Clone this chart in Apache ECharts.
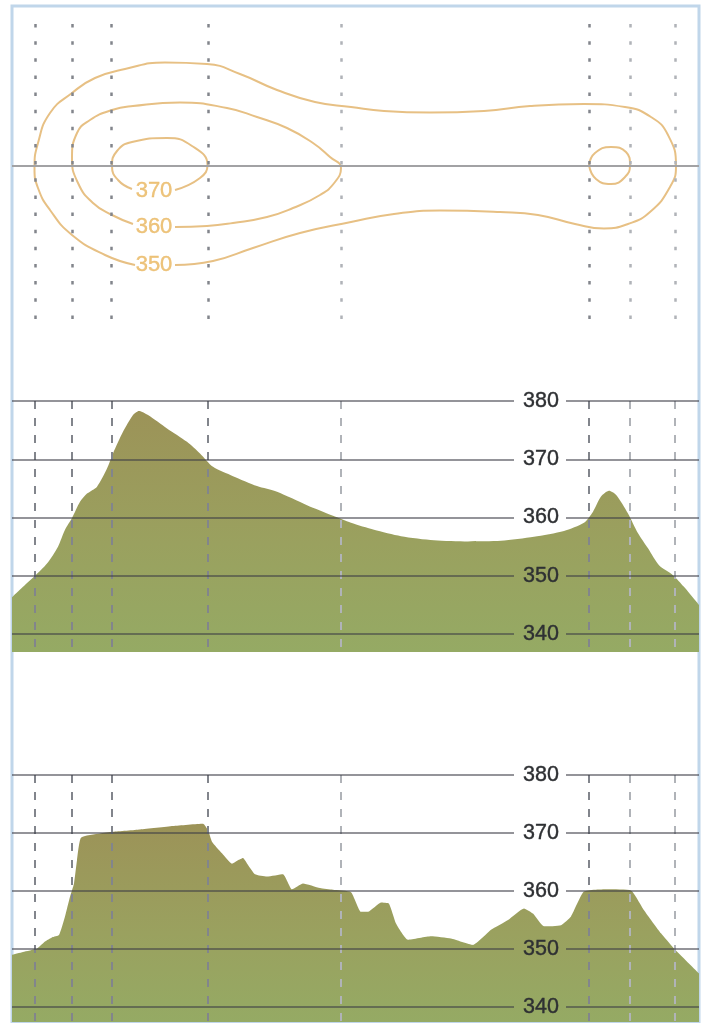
<!DOCTYPE html>
<html>
<head>
<meta charset="utf-8">
<style>
  html, body { margin: 0; padding: 0; background: #fff; }
  #main { width: 702px; height: 1023px; }
</style>
</head>
<body>
<div id="main"></div>
<script src="https://cdn.jsdelivr.net/npm/echarts@6/dist/echarts.min.js"></script>
<script>
// section positions along the profile (same x scale in all three panels)
const sectionX = [35, 72, 111.5, 208, 341, 589, 630, 675]
const faintX = [341, 630, 675]
const planLineY = [166]
const elevTicks = [340, 350, 360, 370, 380]

// contours, plan view
const contour350 = [[135, 265], [105, 255], [72, 235], [50, 210], [38, 188], [34.5, 168], [38, 143], [50, 113], [72, 93], [95, 78], [125, 69], [165, 62.5], [207, 64], [240, 74], [277, 90], [315, 102], [351, 107], [384, 111], [430, 112.5], [484, 111], [530, 106], [584, 104], [625, 107], [651, 117], [668, 135], [676, 166], [670, 187], [650, 212], [628, 224], [604, 228.5], [575, 224], [538, 215], [500, 212], [440, 210.5], [394, 214], [351, 222], [300, 233], [253, 248], [213, 261], [175, 265]]
const contour360 = [[133, 224], [112, 215], [93, 203], [78, 183], [72, 158], [77, 133], [90, 120], [112, 110], [133, 106], [180, 102.5], [227, 108], [257, 117], [287, 128], [313, 143], [330, 157], [341, 168], [335, 182], [320, 195], [293, 208], [267, 217], [233, 223], [207, 226], [175, 227]]
const contour370 = [[132, 189], [118, 180], [112, 166], [117, 151], [132, 142], [167, 138], [192, 146], [207.5, 165], [200, 178], [175, 190]]
const contourRing = [[589, 165], [595, 153], [611, 147], [626, 152], [630, 165], [625, 177], [611, 184], [596, 179], [589, 165]]
const contourLabelText = ['370', '360', '350']
const contourLabelX = [154, 154, 154]
const contourLabelY = [190.5, 227, 265]

// elevation profiles
const profileAX = [12, 23, 35, 47, 58, 65, 72, 80, 87, 97, 107, 113, 123, 133, 139, 148, 167, 187, 200, 213, 233, 257, 277, 307, 333, 351, 374, 401, 434, 468, 501, 534, 564, 584, 593, 601, 609, 616, 628, 638, 648, 659, 673, 684, 699]
const profileAY = [346.3, 348.1, 350, 352.1, 355, 357.9, 359.9, 362.7, 364.1, 365.3, 368.4, 371, 374.7, 377.6, 378.3, 377.6, 375.3, 373, 371, 368.7, 367.1, 365.4, 364.4, 362.1, 360.3, 359.1, 357.9, 356.8, 356.1, 355.9, 356, 356.7, 357.7, 359.1, 361, 363.6, 364.6, 363.9, 360.7, 357.3, 354.7, 351.8, 350.1, 348.1, 345]
const profileBX = [12, 23, 37, 45, 52, 59, 65, 70, 74, 77, 81, 100, 113, 140, 173, 203, 208, 212, 222, 232, 238, 243, 248, 255, 267, 283, 292, 303, 320, 333, 351, 361, 368, 381, 389, 396, 408, 431, 451, 473, 491, 508, 524, 533, 544, 561, 571, 584, 608, 631, 644, 661, 674, 699]
const profileBY = [349, 349.5, 350.1, 351.3, 352, 352.4, 355.6, 359, 361.3, 365.3, 369.2, 369.9, 370.2, 370.6, 371.2, 371.6, 370.5, 368.5, 366.5, 364.7, 365.3, 365.7, 364.5, 362.9, 362.5, 362.9, 360.3, 361.3, 360.5, 360.2, 359.8, 356.4, 356.4, 358, 357.8, 354.4, 351.6, 352.2, 351.8, 350.7, 353.3, 355, 357, 356.1, 353.9, 354.1, 355.6, 359.9, 360.3, 360.1, 356.7, 352.7, 350.1, 345.8]

const xMin = 12
const xMax = 699
const gapLeft = 514
const gapRight = 566
const fontFamily = '"Liberation Sans", Arial, sans-serif'

const areaFill = {
  type: 'linear', x: 0, y: 0, x2: 0, y2: 1,
  colorStops: [
    { offset: 0, color: '#9c9358' },
    { offset: 0.55, color: '#9aa15f' },
    { offset: 1, color: '#95aa64' },
  ],
}

function zip(xs, ys) {
  return xs.map((x, i) => [x, ys[i]])
}

function sectionLines(from, to, dash, width) {
  return {
    silent: true,
    symbol: 'none',
    label: { show: false },
    animation: false,
    data: sectionX.map(x => [
      {
        coord: [x, from],
        lineStyle: {
          color: faintX.includes(x) ? '#b0b3b8' : '#82858c',
          width,
          type: dash,
        },
      },
      { coord: [x, to] },
    ]),
  }
}

function levelLines() {
  const data = []
  elevTicks.forEach((v) => {
    data.push([{ coord: [xMin, v] }, { coord: [gapLeft, v] }])
    data.push([{ coord: [gapRight, v] }, { coord: [xMax, v] }])
  })
  return {
    silent: true,
    symbol: 'none',
    label: { show: false },
    animation: false,
    lineStyle: { color: 'rgba(60, 60, 70, 0.55)', width: 2, type: 'solid' },
    data,
  }
}

function helper(index, markLine, z) {
  return { type: 'line', xAxisIndex: index, yAxisIndex: index, data: [], z, markLine }
}

function contourSeries(data, smooth) {
  return {
    type: 'line',
    xAxisIndex: 0,
    yAxisIndex: 0,
    data,
    smooth,
    showSymbol: false,
    z: 3,
    lineStyle: { color: '#e7c084', width: 2 },
  }
}

function profileSeries(index, xs, ys, smooth) {
  return {
    type: 'line',
    xAxisIndex: index,
    yAxisIndex: index,
    data: zip(xs, ys),
    showSymbol: false,
    smooth,
    z: 2,
    lineStyle: { width: 0 },
    areaStyle: { color: areaFill, origin: 'start', opacity: 1 },
  }
}

function xAxisFor(gridIndex) {
  return { type: 'value', gridIndex, min: xMin, max: xMax, show: false }
}

function elevAxis(gridIndex, min) {
  return {
    type: 'value',
    gridIndex,
    min,
    max: 380,
    position: 'right',
    offset: -176,
    z: 6,
    axisLine: { show: false },
    axisTick: { show: false },
    splitLine: { show: false },
    axisLabel: {
      customValues: elevTicks,
      margin: 0,
      padding: [4, 0, 0, 0],
      color: '#2e3033',
      fontSize: 21.5,
      fontFamily,
      textBorderColor: '#2e3033',
      textBorderWidth: 0.4,
    },
  }
}

const chart = echarts.init(document.getElementById('main'), null, { renderer: 'canvas' })
chart.setOption({
  animation: false,
  backgroundColor: '#fff',
  grid: [
    { left: xMin, top: 6, width: xMax - xMin, height: 320 },
    { left: xMin, top: 401, width: xMax - xMin, height: 251 },
    { left: xMin, top: 775, width: xMax - xMin, height: 247 },
    // outer frame, runs off the bottom of the page
    { left: xMin, top: 6, width: xMax - xMin, height: 1040, show: true, borderColor: '#c0d6ea', borderWidth: 3, backgroundColor: 'transparent' },
  ],
  xAxis: [xAxisFor(0), xAxisFor(1), xAxisFor(2)],
  yAxis: [
    { type: 'value', gridIndex: 0, min: 6, max: 326, inverse: true, show: false },
    elevAxis(1, 336.91),
    elevAxis(2, 337.41),
  ],
  series: [
    helper(0, sectionLines(24, 320, [3.5, 13.64], 2.5), 1),
    helper(0, {
      silent: true,
      symbol: 'none',
      label: { show: false },
      animation: false,
      lineStyle: { color: '#a2a2a4', width: 2, type: 'solid' },
      data: planLineY.map(y => [{ coord: [xMin, y] }, { coord: [xMax, y] }]),
    }, 2),
    contourSeries(contour350, 0.5),
    contourSeries(contour360, 0.5),
    contourSeries(contour370, 0.5),
    contourSeries(contourRing, 0.5),
    {
      type: 'scatter',
      xAxisIndex: 0,
      yAxisIndex: 0,
      symbolSize: 0,
      z: 4,
      data: contourLabelText.map((name, i) => ({ name, value: [contourLabelX[i], contourLabelY[i]] })),
      label: {
        show: true,
        position: 'inside',
        formatter: '{b}',
        color: '#e8b55c',
        fontSize: 22,
        fontFamily,
        textBorderColor: '#e8b55c',
        textBorderWidth: 0.4,
      },
    },

    helper(1, sectionLines(380, 336.91, [8, 9], 2), 1),
    profileSeries(1, profileAX, profileAY, 0.25),
    helper(1, levelLines(), 3),

    helper(2, sectionLines(380, 337.41, [8, 9], 2), 1),
    profileSeries(2, profileBX, profileBY, 0.15),
    helper(2, levelLines(), 3),
  ],
})
</script>
</body>
</html>
